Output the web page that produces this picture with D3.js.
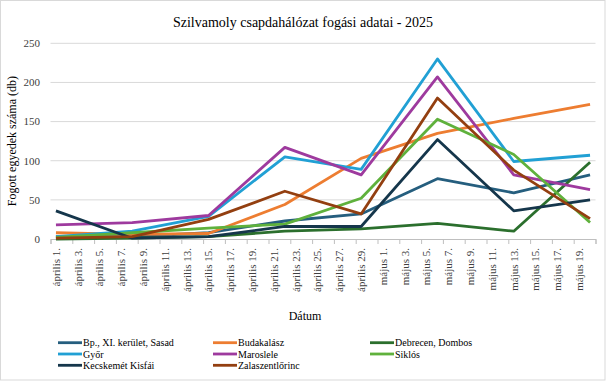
<!DOCTYPE html>
<html>
<head>
<meta charset="utf-8">
<script src="https://cdn.jsdelivr.net/npm/d3@7"></script>
<style>
  body { margin: 0; background: #fff; }
  svg text { font-family: "Liberation Serif", "Times New Roman", serif; }
</style>
</head>
<body>
<svg id="chart" width="606" height="381"></svg>
<script>
// sampling dates (weekly trap checks)
var dates = ['2025-04-01', '2025-04-08', '2025-04-15', '2025-04-22', '2025-04-29', '2025-05-06', '2025-05-13', '2025-05-20'];

var names = ['Bp., XI. kerület, Sasad', 'Budakalász', 'Debrecen, Dombos', 'Győr', 'Maroslele', 'Siklós', 'Kecskemét Kisfái', 'Zalaszentlőrinc'];
var colors = ['#255e7e', '#ed7d31', '#2b6f2d', '#21a0d4', '#9e3a9e', '#5fb13c', '#15364b', '#933f10'];

var sasad = [3, 3, 8, 23, 32, 77, 59, 82];
var budakalasz = [8, 6, 7, 44, 103, 135, 154, 172];
var debrecen = [0, 1, 3, 10, 13, 20, 10, 98];
var gyor = [3, 10, 29, 105, 89, 230, 99, 107];
var maroslele = [18, 21, 30, 117, 82, 207, 82, 63];
var siklos = [2, 8, 14, 19, 52, 153, 108, 21];
var kecskemet = [36, 1, 3, 16, 16, 127, 36, 50];
var zalaszentlorinc = [1, 3, 25, 61, 32, 180, 88, 26];

var yTicks = [0, 50, 100, 150, 200, 250];
var monthNames = ['január', 'február', 'március', 'április', 'május', 'június'];

var seriesValues = [sasad, budakalasz, debrecen, gyor, maroslele, siklos, kecskemet, zalaszentlorinc];

var svg = d3.select('svg#chart');
var width = 606, height = 381;
var plotLeft = 50.5, plotRight = 595.5, plotTop = 43.3, plotBottom = 239;

svg.append('rect')
  .attr('x', 0.5).attr('y', 0.5)
  .attr('width', width - 1.5).attr('height', height - 1.5)
  .attr('fill', '#fff').attr('stroke', '#d9d9d9');

var day = 24 * 3600 * 1000;
var start = new Date(Date.UTC(2025, 3, 1));
var end = new Date(Date.UTC(2025, 4, 21));

var x = d3.scaleUtc().domain([start, end]).range([plotLeft, plotRight]);
var y = d3.scaleLinear().domain([0, 250]).range([plotBottom, plotTop]);

function parseDate(s) {
  var p = s.split('-');
  return new Date(Date.UTC(+p[0], +p[1] - 1, +p[2]));
}
function mid(d) { return x(new Date(d.getTime() + day / 2)); }

// gridlines
svg.append('g')
  .selectAll('line')
  .data(yTicks.filter(function(t) { return t > 0; }))
  .join('line')
  .attr('x1', plotLeft).attr('x2', plotRight)
  .attr('y1', function(d) { return y(d); }).attr('y2', function(d) { return y(d); })
  .attr('stroke', '#d9d9d9').attr('stroke-width', 1);

// y labels
svg.append('g')
  .selectAll('text')
  .data(yTicks)
  .join('text')
  .attr('x', 40).attr('y', function(d) { return y(d); })
  .attr('dy', '0.35em')
  .attr('text-anchor', 'end')
  .attr('font-size', 11).attr('fill', '#404040')
  .text(function(d) { return d; });

// x axis: ticks every 2 days
var tickDates = d3.utcDay.range(start, end, 1).filter(function(d, i) { return i % 2 === 0; });
var xAxis = d3.axisBottom(x)
  .tickValues(tickDates.concat([end]))
  .tickSize(5)
  .tickFormat('');
var gx = svg.append('g').attr('transform', 'translate(0,' + plotBottom + ')').call(xAxis);
gx.select('.domain').attr('stroke', '#bfbfbf');
gx.selectAll('.tick line').attr('stroke', '#bfbfbf');

svg.append('g')
  .selectAll('text')
  .data(tickDates)
  .join('text')
  .attr('transform', function(d) { return 'translate(' + mid(d) + ',' + (plotBottom + 9) + ') rotate(-90)'; })
  .attr('dy', '0.35em')
  .attr('text-anchor', 'end')
  .attr('font-size', 11).attr('fill', '#404040')
  .text(function(d) { return monthNames[d.getUTCMonth()] + ' ' + d.getUTCDate() + '.'; });

// lines
var line = d3.line()
  .x(function(d) { return mid(d.date); })
  .y(function(d) { return y(d.value); });

var series = names.map(function(n, i) {
  return { name: n, color: colors[i], points: dates.map(function(s, j) { return { date: parseDate(s), value: seriesValues[i][j] }; }) };
});

svg.append('g')
  .selectAll('path')
  .data(series)
  .join('path')
  .attr('d', function(d) { return line(d.points); })
  .attr('fill', 'none')
  .attr('stroke', function(d) { return d.color; })
  .attr('stroke-width', 2.8)
  .attr('stroke-linejoin', 'round');

// titles
svg.append('text')
  .attr('x', 303).attr('y', 27)
  .attr('text-anchor', 'middle')
  .attr('font-size', 14).attr('fill', '#000')
  .text('Szilvamoly csapdahálózat fogási adatai - 2025');

svg.append('text')
  .attr('transform', 'translate(12,' + ((plotTop + plotBottom) / 2) + ') rotate(-90)')
  .attr('dy', '0.35em')
  .attr('text-anchor', 'middle')
  .attr('font-size', 12).attr('fill', '#000')
  .text('Fogott egyedek száma (db)');

svg.append('text')
  .attr('x', 305).attr('y', 320)
  .attr('text-anchor', 'middle')
  .attr('font-size', 12).attr('fill', '#000')
  .text('Dátum');

// legend, 3 columns
var colX = [58, 213, 370];
var rowY = [342.7, 354, 365.3];
var lg = svg.append('g')
  .selectAll('g')
  .data(series)
  .join('g')
  .attr('transform', function(d, i) { return 'translate(' + colX[i % 3] + ',' + rowY[Math.floor(i / 3)] + ')'; });
lg.append('line')
  .attr('x1', 0).attr('x2', 24)
  .attr('stroke', function(d) { return d.color; })
  .attr('stroke-width', 2.8);
lg.append('text')
  .attr('x', 25).attr('dy', '0.35em')
  .attr('font-size', 10).attr('fill', '#000')
  .text(function(d) { return d.name; });
</script>
</body>
</html>
